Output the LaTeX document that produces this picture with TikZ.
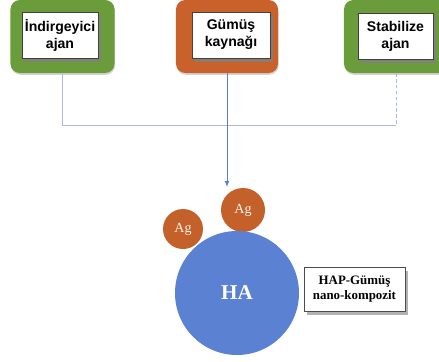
\documentclass[tikz,border=0pt]{standalone}
\usepackage{fontspec}
\setmainfont{Liberation Serif}
\newfontfamily\labelfont{Liberation Sans}
\usetikzlibrary{shadows,arrows.meta}
\tikzset{% change default arrow tips
    >={Latex[length=5pt,width=4pt]}
}
\definecolor{leafgreen}{HTML}{6A9C3C}
\definecolor{rustorange}{HTML}{C9612A}
\definecolor{agorange}{HTML}{C4602A}
\definecolor{habblue}{HTML}{5B81D2}
\definecolor{linkblue}{HTML}{A7BCE2}
\definecolor{arrowblue}{HTML}{5580CC}
\tikzset{
    frame/.style={rounded corners=8pt, minimum width=3.12cm, minimum height=2.19cm,
        drop shadow={shadow xshift=0.5pt, shadow yshift=-1.5pt, opacity=0.35}},
    label box/.style={draw=black!75, line width=0.5pt, fill=white, align=center,
        font=\labelfont\bfseries\fontsize{12}{14.5}\selectfont,
        minimum height=1.38cm, inner sep=1pt,
        drop shadow={shadow xshift=2.5pt, shadow yshift=-3pt, opacity=0.8}},
    link/.style={draw=linkblue, line width=0.7pt},
    silver/.style={circle, fill=agorange, text=white!92!orange, minimum size=1.3cm,
        font=\fontsize{12}{14}\selectfont}
}
\begin{document}
\begin{tikzpicture}[x=0.03cm, y=-0.03cm]
    \useasboundingbox (0,0) rectangle (439,362);

    % source frames
    \node[frame, fill=leafgreen] (reducer) at (62.5,36.5) {};
    \node[frame, fill=rustorange, minimum width=3.06cm] (source) at (227,36.5) {};
    \node[frame, fill=leafgreen] (stabilizer) at (396,36.5) {};

    % labels
    \node[label box, minimum width=2.28cm] (reducertext) at (60,35) {İndirgeyici\\ajan};
    \node[label box, minimum width=2.34cm] (sourcetext) at (231,35) {Gümüş\\kaynağı};
    \node[label box, minimum width=2.25cm] (stabilizertext) at (395.5,36.5) {Stabilize\\ajan};

    % connectors
    \coordinate (leftturn) at (62.5,125);
    \coordinate (rightturn) at (396,125);
    \coordinate (tip) at (227,187);
    \draw[link] (reducer.south) -- (leftturn) -- (rightturn);
    \draw[link, dashed, dash pattern=on 3pt off 2pt] (stabilizer.south) -- (rightturn);
    \draw[->, draw=arrowblue, fill=arrowblue, line width=0.8pt] (source.south) -- (tip);

    % particles
    \node[silver, minimum size=1.32cm] (agtop) at (243,210) {Ag};
    \node[silver, minimum size=1.2cm] (agleft) at (183,229) {Ag};
    \node[circle, fill=habblue, minimum size=3.72cm, text=white,
        font=\bfseries\fontsize{18}{20}\selectfont] (ha) at (237,293) {HA};

    % product label
    \node[draw=black!70, line width=0.5pt, fill=white, align=center,
        minimum width=3.03cm, minimum height=1.32cm, inner sep=1pt,
        font=\bfseries\fontsize{11}{12.5}\selectfont,
        drop shadow={shadow xshift=2.5pt, shadow yshift=-3pt, opacity=0.6}]
        (product) at (354.5,289) {HAP-Gümüş\\nano-kompozit};
\end{tikzpicture}
\end{document}
